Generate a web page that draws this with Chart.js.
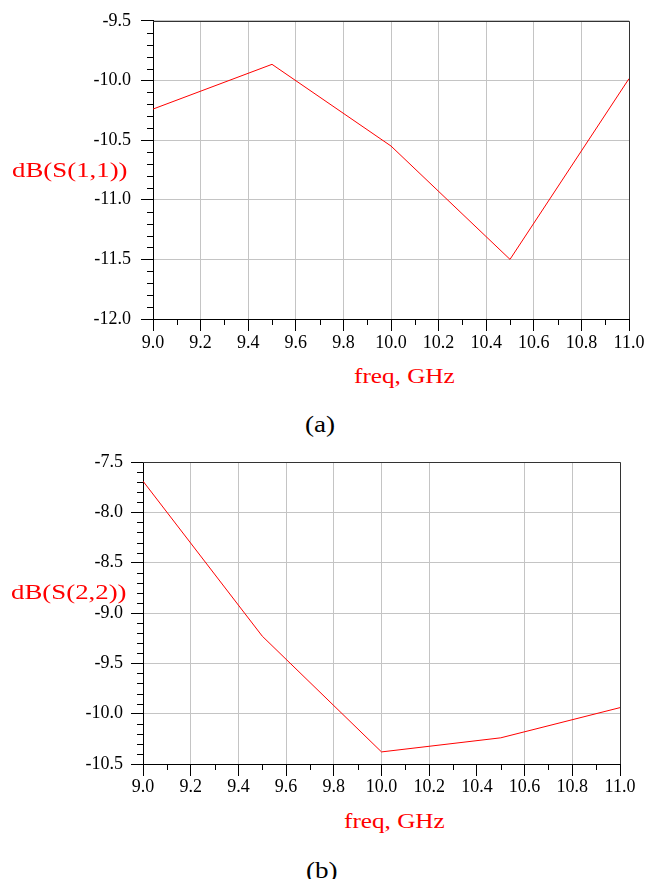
<!DOCTYPE html>
<html>
<head>
<meta charset="utf-8">
<script src="https://cdn.jsdelivr.net/npm/chart.js@4.4.1/dist/chart.umd.min.js"></script>
<style>
  body { margin: 0; background: #fff; }
  #wrap { position: relative; width: 646px; height: 879px; overflow: hidden; font-family: 'Liberation Serif'; }
  .box { position: absolute; left: 0; width: 646px; height: 360px; }
  .lbl { position: absolute; white-space: nowrap; line-height: 1; transform-origin: left center; font-family: 'Liberation Serif'; }
  .red { color: #ff0000; }
</style>
</head>
<body>
<div id="wrap">
  <div class="box" style="top:0"><canvas id="chartA" width="646" height="360"></canvas></div>
  <div class="box" style="top:440px"><canvas id="chartB" width="646" height="360"></canvas></div>

  <div class="lbl red" style="left:12px; top:159px; font-size:22px; transform:scaleX(1.22)">dB(S(1,1))</div>
  <div class="lbl red" style="left:354px; top:366px; font-size:21px; transform:scaleX(1.2)">freq, GHz</div>
  <div class="lbl" style="left:305px; top:412px; font-size:24px; transform:scaleX(1.13)">(a)</div>

  <div class="lbl red" style="left:11px; top:581px; font-size:22px; transform:scaleX(1.22)">dB(S(2,2))</div>
  <div class="lbl red" style="left:344px; top:811px; font-size:21px; transform:scaleX(1.2)">freq, GHz</div>
  <div class="lbl" style="left:306px; top:858px; font-size:24px; transform:scaleX(1.13)">(b)</div>
</div>

<script>
// Dữ liệu
const freqA = [9.0, 9.5, 10.0, 10.5, 11.0];
const s11 = [-10.24, -9.865, -10.55, -11.50, -9.985];

const freqB = [9.0, 9.5, 10.0, 10.5, 11.0];
const s22 = [-7.69, -9.23, -10.38, -10.24, -9.94];

// Nhãn trục
const xMajor = [9.0, 9.2, 9.4, 9.6, 9.8, 10.0, 10.2, 10.4, 10.6, 10.8, 11.0];
const yMajorA = [-12.0, -11.5, -11.0, -10.5, -10.0, -9.5];
const yMajorB = [-10.5, -10.0, -9.5, -9.0, -8.5, -8.0, -7.5];
const hiddenGridB = [10.4]; // đường lưới dọc bị thiếu ở hình (b)

const GRID = '#c4c4c4';
const TICK_FONT = { family: 'Liberation Serif', size: 18 };

function inList(list, v) {
    return list.some(m => Math.abs(m - v) < 1e-6);
}

// Vẽ vạch chia phụ và khung trên/phải
const frameAndMinor = {
    id: 'frameAndMinor',
    afterDraw(chart, args, opts) {
        const { ctx, chartArea: a, scales: { x, y } } = chart;
        ctx.save();
        ctx.strokeStyle = '#000';
        ctx.lineWidth = 1;
        ctx.beginPath();
        x.ticks.forEach(t => {
            if (inList(opts.xMajor, t.value)) return;
            const px = Math.round(x.getPixelForValue(t.value)) + 0.5;
            ctx.moveTo(px, a.bottom);
            ctx.lineTo(px, a.bottom + 6);
        });
        y.ticks.forEach(t => {
            if (inList(opts.yMajor, t.value)) return;
            const py = Math.round(y.getPixelForValue(t.value)) + 0.5;
            ctx.moveTo(a.left - 6, py);
            ctx.lineTo(a.left, py);
        });
        ctx.stroke();

        ctx.strokeStyle = '#333';
        ctx.beginPath();
        ctx.moveTo(Math.round(a.left), Math.round(a.top) + 0.5);
        ctx.lineTo(Math.round(a.right) + 0.5, Math.round(a.top) + 0.5);
        ctx.lineTo(Math.round(a.right) + 0.5, Math.round(a.bottom));
        ctx.stroke();
        ctx.restore();
    }
};

function makeChart(id, freq, vals, cfg) {
    const ctx = document.getElementById(id);
    return new Chart(ctx, {
        type: 'line',
        data: {
            datasets: [{
                data: freq.map((f, i) => ({ x: f, y: vals[i] })),
                borderColor: '#ff0000',
                borderWidth: 1,
                pointRadius: 0,
                tension: 0,
                fill: false
            }]
        },
        options: {
            responsive: false,
            animation: false,
            devicePixelRatio: 1,
            layout: { padding: { top: cfg.padTop, right: cfg.padRight, left: 0, bottom: 0 } },
            plugins: {
                legend: { display: false },
                tooltip: { enabled: false },
                frameAndMinor: { xMajor: xMajor, yMajor: cfg.yMajor }
            },
            scales: {
                x: {
                    type: 'linear',
                    min: 9,
                    max: 11,
                    afterFit: s => { s.height = cfg.xHeight; },
                    border: { color: '#000', width: 1 },
                    grid: {
                        color: c => (inList(xMajor, c.tick.value) && !inList(cfg.hiddenGrid, c.tick.value)) ? GRID : 'rgba(0,0,0,0)',
                        tickColor: c => inList(xMajor, c.tick.value) ? '#000' : 'rgba(0,0,0,0)',
                        tickLength: 12
                    },
                    ticks: {
                        stepSize: 0.1,
                        autoSkip: false,
                        maxRotation: 0,
                        minRotation: 0,
                        padding: cfg.xPad,
                        color: '#000',
                        font: TICK_FONT,
                        callback: v => inList(xMajor, v) ? v.toFixed(1) : ''
                    }
                },
                y: {
                    min: cfg.yMajor[0],
                    max: cfg.yMajor[cfg.yMajor.length - 1],
                    afterFit: s => { s.width = cfg.yWidth; },
                    border: { color: '#000', width: 1 },
                    grid: {
                        color: c => inList(cfg.yMajor, c.tick.value) ? GRID : 'rgba(0,0,0,0)',
                        tickColor: c => inList(cfg.yMajor, c.tick.value) ? '#000' : 'rgba(0,0,0,0)',
                        tickLength: 12
                    },
                    ticks: {
                        stepSize: 0.1,
                        autoSkip: false,
                        maxTicksLimit: 100,
                        padding: cfg.yPad,
                        color: '#000',
                        font: TICK_FONT,
                        callback: v => inList(cfg.yMajor, v) ? v.toFixed(1) : ''
                    }
                }
            }
        },
        plugins: [frameAndMinor]
    });
}

makeChart('chartA', freqA, s11, {
    yMajor: yMajorA, hiddenGrid: [],
    padTop: 18, padRight: 17, yWidth: 153, xHeight: 41, xPad: 1, yPad: 10
});

makeChart('chartB', freqB, s22, {
    yMajor: yMajorB, hiddenGrid: hiddenGridB,
    padTop: 22, padRight: 26, yWidth: 143, xHeight: 36, xPad: 0, yPad: 8
});
</script>
</body>
</html>
